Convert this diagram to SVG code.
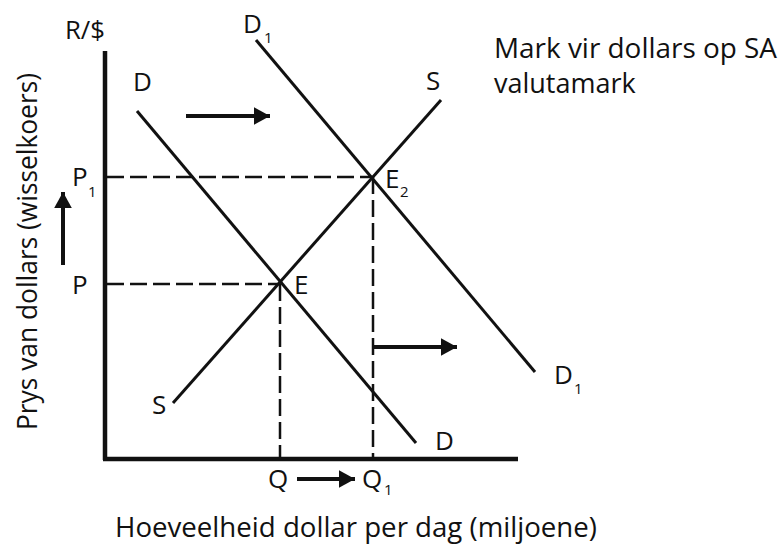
<svg xmlns="http://www.w3.org/2000/svg" width="779" height="554" viewBox="0 0 779 554">
<defs>
<marker id="ah" markerWidth="4" markerHeight="4.4" refX="4" refY="2.2" orient="auto" markerUnits="strokeWidth">
<path d="M0,0 L4,2.2 L0,4.4 Z" fill="#111"/>
</marker>
</defs>
<style>
text{font-family:"Open Sans","Liberation Sans",sans-serif;fill:#111;font-size:26px}
.big{font-size:27px}
.sub{font-size:15px}
.curve{stroke:#111;stroke-width:3;fill:none}
.axis{stroke:#111;stroke-width:4.5;fill:none}
.dash{stroke:#111;stroke-width:2.5;stroke-dasharray:17 6;fill:none}
.arr{stroke:#111;stroke-width:4;fill:none;marker-end:url(#ah)}
</style>
<rect width="779" height="554" fill="#fff"/>
<g id="axes">
<line class="axis" x1="105" y1="51" x2="105" y2="460"/>
<line class="axis" x1="103" y1="459" x2="518" y2="459"/>
<text x="65" y="39" textLength="40" lengthAdjust="spacingAndGlyphs">R/$</text>
<text class="big" x="115" y="537" textLength="482" lengthAdjust="spacingAndGlyphs">Hoeveelheid dollar per dag (miljoene)</text>
<text class="big" transform="translate(37,430) rotate(-90)" textLength="357" lengthAdjust="spacingAndGlyphs">Prys van dollars (wisselkoers)</text>
</g>
<g id="title">
<text class="big" x="494" y="58" textLength="283" lengthAdjust="spacingAndGlyphs">Mark vir dollars op SA</text>
<text class="big" x="494" y="93">valutamark</text>
</g>
<g id="connectors">
<line class="dash" x1="107" y1="177" x2="373" y2="177"/>
<line class="dash" x1="107" y1="284" x2="280" y2="284"/>
<line class="dash" x1="280" y1="284" x2="280" y2="457"/>
<line class="dash" x1="373" y1="177" x2="373" y2="457"/>
<line class="arr" x1="186" y1="116" x2="270" y2="116"/>
<line class="arr" x1="373" y1="347" x2="457" y2="347"/>
<line class="arr" x1="297" y1="479" x2="355" y2="479"/>
<line class="arr" x1="63" y1="265" x2="63" y2="192"/>
</g>
<g id="curve-D">
<line class="curve" x1="137" y1="111" x2="416" y2="443"/>
<text x="133" y="91">D</text>
<text x="435" y="450">D</text>
</g>
<g id="curve-D1">
<line class="curve" x1="256" y1="40" x2="535" y2="372"/>
<text x="243" y="33">D</text><text class="sub" x="264" y="43">1</text>
<text x="554" y="384">D</text><text class="sub" x="574" y="394">1</text>
</g>
<g id="curve-S">
<line class="curve" x1="173" y1="403" x2="441" y2="100"/>
<text x="426" y="90">S</text>
<text x="152" y="414">S</text>
</g>
<g id="labels">
<text x="72" y="186">P</text><text class="sub" x="88" y="197">1</text>
<text x="72" y="294">P</text>
<text x="294" y="294">E</text>
<text x="385" y="188">E</text><text class="sub" x="400" y="197">2</text>
<text x="268" y="488">Q</text>
<text x="362" y="488">Q</text><text class="sub" x="384" y="495">1</text>
</g>
</svg>
